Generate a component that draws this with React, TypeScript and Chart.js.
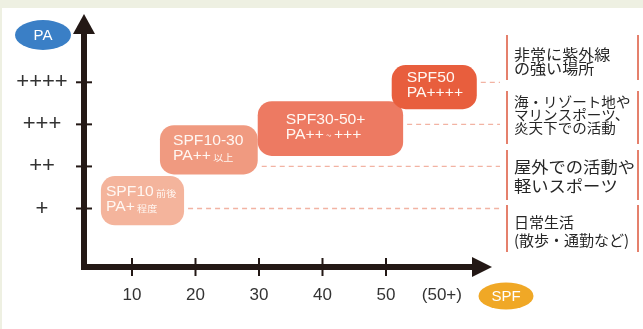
import React, { useEffect, useRef } from 'react';
import { Chart, registerables } from 'chart.js';

Chart.register(...registerables);

// ---- data ----
const boxLabels = ['SPF10', 'SPF10-30', 'SPF30-50+', 'SPF50'];
const spfStart = [5.1, 14.4, 29.8, 50.9];
const spfEnd = [18.2, 29.8, 52.7, 64.3];
const paLow = [0.6, 1.81, 2.25, 3.36];
const paHigh = [1.77, 2.98, 3.55, 4.41];
const boxLine1 = [['SPF10', ' 前後'], ['SPF10-30'], ['SPF30-50+'], ['SPF50']];
const boxLine2 = [['PA+', ' 程度'], ['PA++', ' 以上'], ['PA++', ' ~ ', '+++'], ['PA++++']];

const xMarkValues = [10, 20, 30, 40, 50];
const xLabelValues = [10, 20, 30, 40, 50, 58.8];
const xLabelTexts = ['10', '20', '30', '40', '50', '(50+)'];

const paTickValues = [1, 2, 3, 4];
const paTickLabels = ['+', '++', '+++', '++++'];

const descLines = [
  ['日常生活', '(散歩・通勤など)'],
  ['屋外での活動や', '軽いスポーツ'],
  ['海・リゾート地や', 'マリンスポーツ、', '炎天下での活動'],
  ['非常に紫外線', 'の強い場所'],
];

// ---- styles ----
const boxColors = ['#f4b49c', '#f09a80', '#ed7a62', '#e85e3d'];
const boxTextOffset = [5, 13, 28, 15];
const descFont = [15, 16, 14, 15];
const descScale = [1.0, 1.08, 1.04, 1.07];
const descLineY = [[222, 240], [167, 186], [102, 115, 128], [54, 68]];
const panelY = [[205, 252], [150, 200], [91, 144], [35, 80]];
const AXIS = '#231815';
const SANS = '"Liberation Sans", Arial, sans-serif';
const JP = '"Noto Sans CJK JP", sans-serif';

const drawPlugin = {
  id: 'drawing',
  beforeDraw(chart: any) {
    const ctx = chart.ctx;
    ctx.save();
    ctx.fillStyle = '#eef0e2';
    ctx.fillRect(0, 0, chart.width, chart.height);
    ctx.fillStyle = '#ffffff';
    ctx.fillRect(2, 8, chart.width - 2, chart.height - 8);
    ctx.restore();
  },
  afterDatasetsDraw(chart: any) {
    const ctx = chart.ctx;
    const xs = chart.scales.x;
    const ys = chart.scales.y;
    const { left, right, top, bottom } = chart.chartArea;
    ctx.save();

    // box texts
    chart.data.datasets.forEach((ds: any, i: number) => {
      const el = chart.getDatasetMeta(i).data[0];
      if (!el) return;
      const bx = Math.min(el.x, el.base) + boxTextOffset[i];
      const cy = el.y;
      const lines = [boxLine1[i], boxLine2[i]];
      const lys = [cy - 8.5, cy + 6.5];
      ctx.fillStyle = '#fff7f2';
      ctx.textBaseline = 'middle';
      ctx.textAlign = 'left';
      lines.forEach((segs, li) => {
        ctx.save();
        ctx.translate(bx, lys[li]);
        ctx.scale(1.12, 1);
        let x = 0;
        segs.forEach((s, si) => {
          const small = si % 2 === 1;
          ctx.font = small ? `9px ${JP}` : `14px ${SANS}`;
          ctx.fillText(s, x, small ? 1 : 0);
          x += ctx.measureText(s).width;
        });
        ctx.restore();
      });
    });

    // dashed connectors
    ctx.strokeStyle = '#f2b3a3';
    ctx.lineWidth = 1.3;
    ctx.setLineDash([5, 4]);
    paTickValues.forEach((v, i) => {
      const y = ys.getPixelForValue(v);
      const x0 = xs.getPixelForValue(spfEnd[i]) + 4;
      ctx.beginPath();
      ctx.moveTo(x0, y);
      ctx.lineTo(500, y);
      ctx.stroke();
    });
    ctx.setLineDash([]);

    // description panels
    descLines.forEach((lines, r) => {
      ctx.strokeStyle = '#e5806c';
      ctx.lineWidth = 2;
      ctx.beginPath();
      ctx.moveTo(507, panelY[r][0]);
      ctx.lineTo(507, panelY[r][1]);
      ctx.moveTo(638, panelY[r][0]);
      ctx.lineTo(638, panelY[r][1]);
      ctx.stroke();
      ctx.fillStyle = '#262626';
      ctx.textBaseline = 'middle';
      ctx.textAlign = 'left';
      ctx.font = `${descFont[r]}px ${JP}`;
      lines.forEach((t, li) => {
        ctx.save();
        ctx.translate(514, descLineY[r][li]);
        ctx.scale(descScale[r], 1);
        ctx.fillText(t, 0, 0, 121 / descScale[r]);
        ctx.restore();
      });
    });

    // axes
    ctx.strokeStyle = AXIS;
    ctx.fillStyle = AXIS;
    ctx.lineWidth = 6;
    ctx.lineJoin = 'miter';
    ctx.lineCap = 'butt';
    ctx.beginPath();
    ctx.moveTo(left, top + 18);
    ctx.lineTo(left, bottom);
    ctx.lineTo(right - 18, bottom);
    ctx.stroke();
    ctx.beginPath();
    ctx.moveTo(left, top - 1);
    ctx.lineTo(left - 11, top + 19);
    ctx.lineTo(left + 11, top + 19);
    ctx.closePath();
    ctx.fill();
    ctx.beginPath();
    ctx.moveTo(right + 2, bottom);
    ctx.lineTo(right - 18, bottom - 10);
    ctx.lineTo(right - 18, bottom + 10);
    ctx.closePath();
    ctx.fill();

    // tick marks
    ctx.lineWidth = 2;
    xMarkValues.forEach((v) => {
      const x = xs.getPixelForValue(v);
      ctx.beginPath();
      ctx.moveTo(x, bottom - 9);
      ctx.lineTo(x, bottom + 9);
      ctx.stroke();
    });
    paTickValues.forEach((v) => {
      const y = ys.getPixelForValue(v);
      ctx.beginPath();
      ctx.moveTo(left - 8, y);
      ctx.lineTo(left + 8, y);
      ctx.stroke();
    });

    // tick labels
    ctx.fillStyle = '#333333';
    ctx.textAlign = 'center';
    ctx.textBaseline = 'middle';
    ctx.font = `17px ${SANS}`;
    xLabelValues.forEach((v, i) => {
      ctx.fillText(xLabelTexts[i], xs.getPixelForValue(v), bottom + 28);
    });
    ctx.font = `22px ${SANS}`;
    paTickValues.forEach((v, i) => {
      ctx.fillText(paTickLabels[i], 42, ys.getPixelForValue(v));
    });

    // axis name badges
    ctx.fillStyle = '#3a7fc6';
    ctx.beginPath();
    ctx.ellipse(43, 35, 28, 15, 0, 0, Math.PI * 2);
    ctx.fill();
    ctx.fillStyle = '#f0a826';
    ctx.beginPath();
    ctx.ellipse(506, 296, 27.5, 13.5, 0, 0, Math.PI * 2);
    ctx.fill();
    ctx.fillStyle = '#ffffff';
    ctx.font = `15px ${SANS}`;
    ctx.fillText('PA', 43, 36);
    ctx.fillText('SPF', 506, 297);

    ctx.restore();
  },
};

export default function App() {
  const ref = useRef<HTMLCanvasElement>(null);
  useEffect(() => {
    document.body.style.margin = '0';
    const chart = new Chart(ref.current as HTMLCanvasElement, {
      type: 'bar',
      data: {
        datasets: boxLabels.map((label, i) => ({
          label,
          data: [{ x: [spfStart[i], spfEnd[i]], y: (paLow[i] + paHigh[i]) / 2 }],
          backgroundColor: boxColors[i],
          borderWidth: 0,
          borderRadius: 14,
          borderSkipped: false,
          inflateAmount: 0,
          grouped: false,
          barThickness: 50,
          order: boxLabels.length - i,
        })) as any,
      },
      options: {
        indexAxis: 'y',
        responsive: false,
        animation: false,
        events: [],
        layout: { padding: { left: 84, right: 153, top: 15, bottom: 62 } },
        scales: {
          x: { type: 'linear', min: 2.44, max: 66.38, display: false },
          y: { type: 'linear', min: 0.109, max: 5.1, display: false },
        },
        plugins: { legend: { display: false }, tooltip: { enabled: false } },
      } as any,
      plugins: [drawPlugin],
    });
    const ys = chart.scales.y;
    chart.data.datasets.forEach((ds: any, i: number) => {
      ds.barThickness = Math.abs(ys.getPixelForValue(paHigh[i]) - ys.getPixelForValue(paLow[i]));
    });
    chart.update('none');
    return () => chart.destroy();
  }, []);
  return <canvas ref={ref} width={643} height={329} style={{ display: 'block' }} />;
}
